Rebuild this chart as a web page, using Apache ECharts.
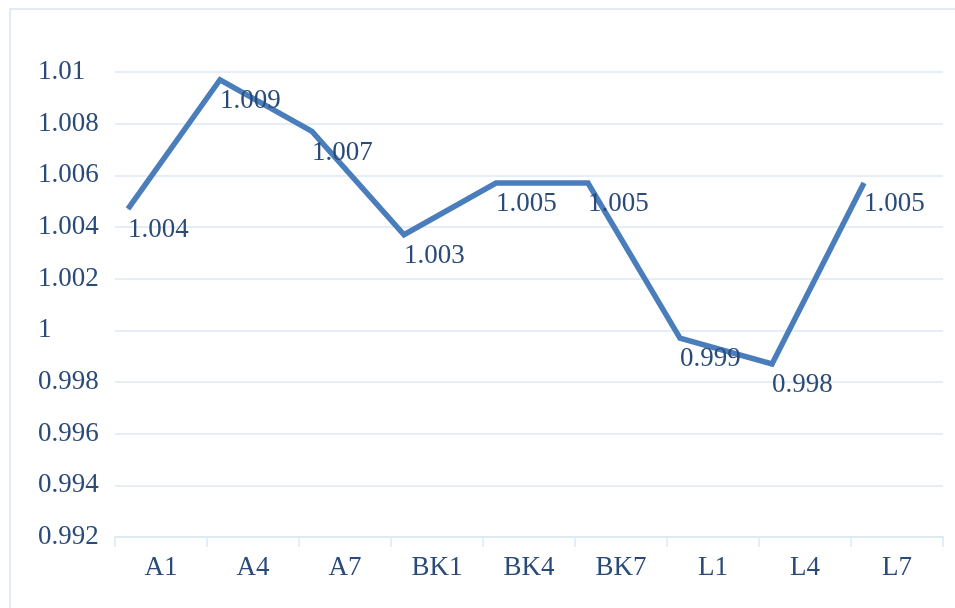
<!DOCTYPE html>
<html>
<head>
<meta charset="utf-8">
<script src="https://cdn.jsdelivr.net/npm/echarts@6/dist/echarts.min.js"></script>
<style>
html, body { margin: 0; padding: 0; background: #fff; }
#main { width: 955px; height: 608px; }
</style>
</head>
<body>
<div id="main"></div>
<script>
// 样品类别与数值
var categories = ['A1', 'A4', 'A7', 'BK1', 'BK4', 'BK7', 'L1', 'L4', 'L7'];
var values = [1.0047, 1.0097, 1.0077, 1.0037, 1.0057, 1.0057, 0.9997, 0.9987, 1.0057];
var valueLabels = ['1.004', '1.009', '1.007', '1.003', '1.005', '1.005', '0.999', '0.998', '1.005'];
var yTicks = { min: 0.992, max: 1.01, interval: 0.002 };

var textColor = '#2a4a78';
var gridColor = '#dde7f3';
var font = 'Liberation Serif';

var myChart = echarts.init(document.getElementById('main'));
var option = {
    backgroundColor: '#fff',
    animation: false,
    graphic: [{
        type: 'rect',
        shape: { x: 10, y: 9, width: 960, height: 620 },
        style: { fill: 'none', stroke: '#dbe5f2', lineWidth: 1.5 },
        silent: true
    }],
    grid: [
        { left: 115, right: 12, top: 72, bottom: 71 },
        { left: 128, right: 91, top: 72, bottom: 71 }
    ],
    xAxis: [{
        type: 'category',
        gridIndex: 0,
        data: categories,
        boundaryGap: true,
        axisLine: { lineStyle: { color: gridColor, width: 1.5 } },
        axisTick: { show: true, length: 10, lineStyle: { color: gridColor, width: 1.5 } },
        axisLabel: { color: textColor, fontFamily: font, fontSize: 27, margin: 17 }
    }, {
        type: 'category',
        gridIndex: 1,
        data: categories,
        boundaryGap: false,
        show: false
    }],
    yAxis: [{
        type: 'value',
        gridIndex: 0,
        min: yTicks.min,
        max: yTicks.max,
        interval: yTicks.interval,
        axisLine: { show: false },
        axisTick: { show: false },
        splitLine: { lineStyle: { color: gridColor, width: 1.5 } },
        axisLabel: {
            color: textColor, fontFamily: font, fontSize: 27,
            align: 'left', margin: 77,
            formatter: function (v) { return String(parseFloat(v.toFixed(3))); }
        }
    }, {
        type: 'value',
        gridIndex: 1,
        min: yTicks.min,
        max: yTicks.max,
        interval: yTicks.interval,
        show: false,
        splitLine: { show: false }
    }],
    series: [{
        type: 'line',
        xAxisIndex: 1,
        yAxisIndex: 1,
        data: values,
        symbol: 'circle',
        symbolSize: 1,
        showSymbol: true,
        itemStyle: { color: '#4a7dbb' },
        lineStyle: { color: '#4a7dbb', width: 5.5, join: 'miter' },
        label: {
            show: true,
            position: 'bottom',
            align: 'left',
            distance: 7,
            color: textColor,
            fontFamily: font,
            fontSize: 27,
            formatter: function (p) { return valueLabels[p.dataIndex]; }
        }
    }]
};
myChart.setOption(option);
</script>
</body>
</html>
